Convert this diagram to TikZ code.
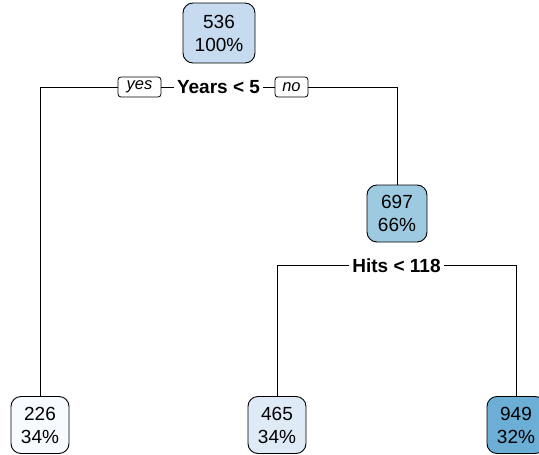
\documentclass[tikz,border=0pt]{standalone}
\usepackage{fontspec}
\setmainfont{Liberation Sans}
\begin{document}
\begin{tikzpicture}[x=1pt,y=-1pt,
  tnode/.style={draw=black,line width=0.9pt,rounded corners=10pt,minimum height=57pt,
    inner sep=0pt,align=center,font=\fontsize{19}{23}\selectfont},
  splitlab/.style={font=\bfseries\fontsize{19}{20}\selectfont,inner xsep=3pt,inner ysep=0pt},
  yesno/.style={draw=black,line width=0.8pt,rounded corners=3pt,minimum width=43pt,minimum height=20pt,
    inner sep=0pt,font=\itshape\fontsize{16.5}{17}\selectfont},
  edge/.style={draw=black,line width=0.8pt}]
\definecolor{b1}{HTML}{F7FBFF}
\definecolor{b2}{HTML}{DEEBF7}
\definecolor{b3}{HTML}{C6DBEF}
\definecolor{b4}{HTML}{9ECAE1}
\definecolor{b5}{HTML}{6BAED6}
\useasboundingbox (0,0) rectangle (539,455);
\node[tnode,fill=b3,minimum width=72pt,minimum height=60pt] (root) at (219,33) {536\\100\%};
\node[splitlab] (s1) at (218.5,87) {Years < 5};
\node[yesno] (yes) at (139.5,87) {yes};
\node[yesno,minimum width=33pt] (no) at (291.5,87) {no};
\node[tnode,fill=b4,minimum width=60pt] (n697) at (397,213.5) {697\\66\%};
\node[splitlab] (s2) at (396.5,265.5) {Hits < 118};
\node[tnode,fill=b1,minimum width=58pt] (n226) at (40,425) {226\\34\%};
\node[tnode,fill=b2,minimum width=58pt] (n465) at (277,425) {465\\34\%};
\node[tnode,fill=b5,minimum width=58pt] (n949) at (516,425) {949\\32\%};
\draw[edge] (yes.west) -| (n226.north);
\draw[edge] (yes.east) -- (s1.west);
\draw[edge] (s1.east) -- (no.west);
\draw[edge] (no.east) -| (n697.north);
\draw[edge] (s2.west) -| (n465.north);
\draw[edge] (s2.east) -| (n949.north);
\end{tikzpicture}
\end{document}
